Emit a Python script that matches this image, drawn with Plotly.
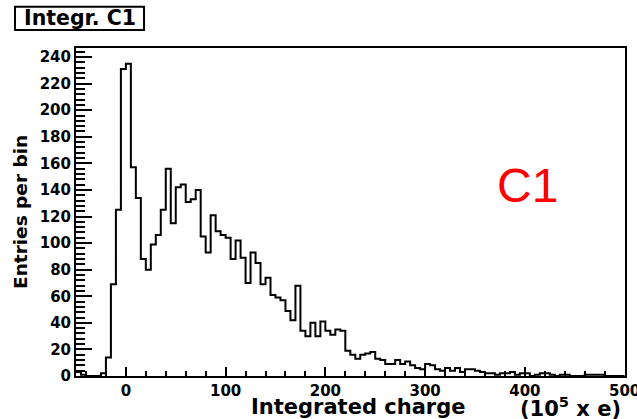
import plotly.graph_objects as go

# ---- data ----
bin_low = -50
bin_width = 5
counts = [3, 1, 0, 0, 0, 2, 14, 69, 125, 231,
          235, 157, 134, 88, 80, 99, 106, 125, 156, 115,
          142, 144, 131, 133, 140, 105, 93, 121, 109, 106,
          104, 88, 102, 89, 70, 93, 85, 69, 74, 61,
          59, 57, 49, 42, 68, 34, 30, 40, 30, 41,
          34, 31, 35, 34, 19, 16, 13, 16, 17, 18,
          13, 12, 9, 9, 12, 9, 11, 8, 6, 5,
          9, 8, 5, 4, 6, 4, 6, 3, 5, 5,
          4, 3, 2, 2, 1, 2, 2, 3, 1, 2,
          2, 0, 1, 2, 2, 1, 0, 1, 1, 0,
          0, 0, 1, 1, 1, 1, 0, 0, 0, 0]
x_range = [-50, 500.4]
y_range = [0, 246.8]

title_text = "Integr. C1"
x_title = "Integrated charge"
x_unit = "(10<sup>5</sup> x e)"
y_title = "Entries per bin"
label_text = "C1"

edges = [bin_low + bin_width * i for i in range(len(counts) + 1)]
ys = counts + [counts[-1]]

fig = go.Figure(go.Scatter(x=edges, y=ys, mode="lines",
                           line=dict(shape="hv", color="black", width=2),
                           hoverinfo="skip", showlegend=False))

tickfont = dict(family="DejaVu Sans", size=15, color="black", weight="bold")

fig.update_layout(
    width=637, height=419,
    margin=dict(l=76, r=12, t=48, b=43, autoexpand=False),
    paper_bgcolor="white", plot_bgcolor="white",
    xaxis=dict(range=x_range, tick0=0, dtick=100, ticks="inside", ticklen=9,
               tickwidth=1.5, tickcolor="black", showline=True, linewidth=2,
               linecolor="black", mirror=True, showgrid=False, zeroline=False,
               tickfont=tickfont, automargin=False, ticklabeloverflow="allow",
               minor=dict(tick0=0, dtick=20, ticks="inside", ticklen=5,
                          tickwidth=1.5, tickcolor="black", showgrid=False)),
    yaxis=dict(range=y_range, tick0=0, dtick=20, ticks="inside", ticklen=16,
               tickwidth=1.5, tickcolor="black", showline=True, linewidth=2,
               linecolor="black", mirror=True, showgrid=False, zeroline=False,
               tickfont=tickfont, automargin=False,
               minor=dict(tick0=0, dtick=4, ticks="inside", ticklen=9,
                          tickwidth=1.5, tickcolor="black", showgrid=False)),
)

# title box
fig.add_shape(type="rect", xref="paper", yref="paper",
              x0=-0.1111, x1=0.1239, y0=1.0549, y1=1.1259,
              line=dict(color="black", width=2), fillcolor="white")
fig.add_annotation(text=title_text, xref="paper", yref="paper",
                   x=0.0064, y=1.0904, xanchor="center", yanchor="middle",
                   showarrow=False,
                   font=dict(family="DejaVu Sans", size=20.5, color="black", weight="bold"))

# axis titles
fig.add_annotation(text=x_title, xref="paper", yref="paper",
                   x=0.513, y=-0.093, xanchor="center", yanchor="middle",
                   showarrow=False,
                   font=dict(family="DejaVu Sans", size=21, color="black", weight="bold"))
fig.add_annotation(text=x_unit, xref="paper", yref="paper",
                   x=0.997, y=-0.093, xanchor="right", yanchor="middle",
                   showarrow=False,
                   font=dict(family="DejaVu Sans", size=21, color="black", weight="bold"))
fig.add_annotation(text=y_title, xref="paper", yref="paper",
                   x=-0.102, y=0.5, xanchor="center", yanchor="middle",
                   textangle=-90, showarrow=False,
                   font=dict(family="DejaVu Sans", size=18.5, color="black", weight="bold"))

# red label
fig.add_annotation(text=label_text, xref="paper", yref="paper",
                   x=0.8215, y=0.58, xanchor="center", yanchor="middle",
                   showarrow=False,
                   font=dict(family="Liberation Sans", size=48, color="#ff0000"))

fig.write_html("out.html")
